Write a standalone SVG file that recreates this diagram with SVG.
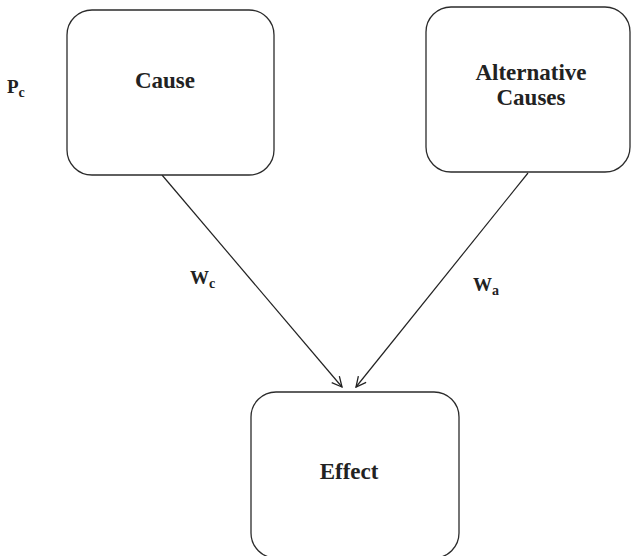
<svg xmlns="http://www.w3.org/2000/svg" width="631" height="556" viewBox="0 0 631 556">
<style>
.box{fill:#fff;stroke:#2b2b2b;stroke-width:1.3}
.lbl{font-size:23px;text-anchor:middle}
.var{font-size:19px}
.sub{font-size:14px}
.edge{stroke:#222;stroke-width:1.2;fill:none}
</style>
<defs>
<marker id="arr" viewBox="0 0 12 12" refX="11" refY="6" markerWidth="12" markerHeight="12" markerUnits="userSpaceOnUse" orient="auto">
<path d="M1,1 L11,6 L1,11" fill="none" stroke="#222" stroke-width="1.3"/>
</marker>
</defs>
<rect width="631" height="556" fill="#fff"/>
<g id="connectors">
<line class="edge" x1="162" y1="175" x2="342" y2="387" marker-end="url(#arr)"/>
<line class="edge" x1="528" y1="173" x2="356" y2="387" marker-end="url(#arr)"/>
</g>
<g font-family="Liberation Serif, Times New Roman, DejaVu Serif, serif" font-weight="bold" fill="#222">
<g id="cause">
<rect class="box" x="67" y="10" width="207" height="165" rx="25" ry="25"/>
<text class="lbl" x="165" y="88">Cause</text>
</g>
<g id="alternative">
<rect class="box" x="426" y="7" width="204" height="165" rx="25" ry="25"/>
<text class="lbl" x="531" y="80">Alternative</text>
<text class="lbl" x="531" y="105">Causes</text>
</g>
<g id="effect">
<rect class="box" x="251" y="392" width="208" height="166" rx="25" ry="25"/>
<text class="lbl" x="349" y="479">Effect</text>
</g>
<g id="labels">
<text class="var" x="7" y="93">P<tspan class="sub" dy="4">c</tspan></text>
<text class="var" x="190" y="284">W<tspan class="sub" dy="4">c</tspan></text>
<text class="var" x="473" y="291">W<tspan class="sub" dy="4">a</tspan></text>
</g>
</g>
</svg>
